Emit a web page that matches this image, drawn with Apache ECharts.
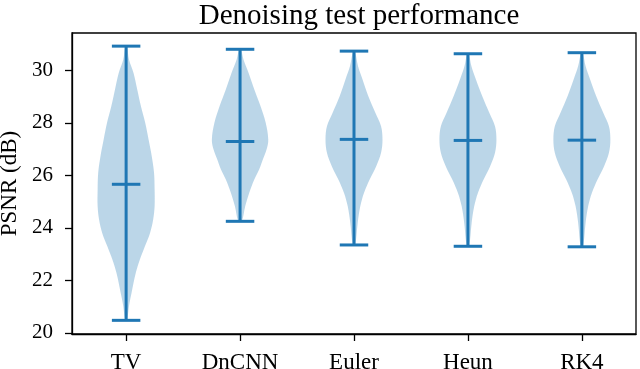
<!DOCTYPE html>
<html>
<head>
<meta charset="utf-8">
<script src="https://cdn.jsdelivr.net/npm/echarts@6/dist/echarts.min.js"></script>
<style>
  html, body { margin: 0; padding: 0; background: #fff; }
  #chart { width: 640px; height: 369px; }
</style>
</head>
<body>
<div id="chart"></div>
<script>
// values
const categories = ['TV', 'DnCNN', 'Euler', 'Heun', 'RK4'];
const maxVals = [30.92, 30.80, 30.73, 30.63, 30.67];
const minVals = [20.48, 24.25, 23.35, 23.30, 23.28];
const midVals = [25.66, 27.29, 27.37, 27.33, 27.34];
const yTicks = [20, 22, 24, 26, 28, 30];

// violin outlines: PSNR level and relative half-width (1 = widest)
const tvLevels = [30.92, 30.41, 29.90, 29.27, 28.63, 28.00, 27.36, 26.73, 26.10, 25.46, 24.82, 24.32, 23.81, 23.30, 22.79, 22.29, 21.52, 21.02, 20.48];
const tvWidths = [0.03, 0.10, 0.26, 0.39, 0.52, 0.67, 0.79, 0.90, 0.98, 1.00, 1.00, 0.95, 0.84, 0.66, 0.48, 0.34, 0.19, 0.10, 0.03];
const dncnnLevels = [30.80, 30.41, 29.90, 29.27, 28.63, 28.00, 27.36, 26.98, 26.60, 26.22, 25.84, 25.33, 24.82, 24.25];
const dncnnWidths = [0.03, 0.12, 0.30, 0.50, 0.72, 0.90, 0.99, 0.93, 0.80, 0.67, 0.50, 0.32, 0.18, 0.06];
const eulerLevels = [30.73, 30.16, 29.65, 29.02, 28.38, 27.87, 27.36, 26.86, 26.35, 25.84, 25.33, 24.82, 24.19, 23.35];
const eulerWidths = [0.03, 0.14, 0.30, 0.50, 0.75, 0.95, 1.00, 0.95, 0.78, 0.55, 0.35, 0.22, 0.13, 0.04];
const heunLevels = [30.63, 30.16, 29.65, 29.02, 28.38, 27.87, 27.36, 26.86, 26.35, 25.84, 25.33, 24.82, 24.19, 23.30];
const heunWidths = [0.03, 0.12, 0.28, 0.50, 0.75, 0.95, 1.00, 0.95, 0.78, 0.55, 0.35, 0.22, 0.13, 0.04];
const rk4Levels = [30.67, 30.16, 29.65, 29.02, 28.38, 27.87, 27.36, 26.86, 26.35, 25.84, 25.33, 24.82, 24.19, 23.28];
const rk4Widths = [0.03, 0.13, 0.29, 0.50, 0.75, 0.95, 1.00, 0.95, 0.78, 0.55, 0.35, 0.22, 0.13, 0.04];

const profiles = [
  [tvLevels, tvWidths],
  [dncnnLevels, dncnnWidths],
  [eulerLevels, eulerWidths],
  [heunLevels, heunWidths],
  [rk4Levels, rk4Widths]
];

const halfWidth = 0.25;   // matplotlib violinplot widths=0.5
const capHalf = 0.125;
const blue = '#1f77b4';
const font = '"Liberation Serif", "DejaVu Serif", serif';

let chart = echarts.init(document.getElementById('chart'));

function renderViolin(params, api) {
  let i = params.dataIndex;
  let pos = api.value(0);
  let levels = profiles[i][0];
  let widths = profiles[i][1];
  let right = [];
  let left = [];
  levels.forEach((v, k) => {
    right.push(api.coord([pos + widths[k] * halfWidth, v]));
    left.unshift(api.coord([pos - widths[k] * halfWidth, v]));
  });
  let top = api.coord([pos, maxVals[i]]);
  let bot = api.coord([pos, minVals[i]]);
  let mid = api.coord([pos, midVals[i]]);
  let capW = api.coord([pos + capHalf, 0])[0] - top[0];
  let lineStyle = { stroke: blue, lineWidth: 3 };
  return {
    type: 'group',
    children: [
      {
        type: 'polygon',
        shape: { points: right.concat(left), smooth: 0.35 },
        style: { fill: 'rgba(31,119,180,0.3)', stroke: null }
      },
      { type: 'line', shape: { x1: top[0], y1: top[1], x2: bot[0], y2: bot[1] }, style: lineStyle },
      { type: 'line', shape: { x1: top[0] - capW, y1: top[1], x2: top[0] + capW, y2: top[1] }, style: lineStyle },
      { type: 'line', shape: { x1: bot[0] - capW, y1: bot[1], x2: bot[0] + capW, y2: bot[1] }, style: lineStyle },
      { type: 'line', shape: { x1: mid[0] - capW, y1: mid[1], x2: mid[0] + capW, y2: mid[1] }, style: lineStyle }
    ]
  };
}

let option = {
  animation: false,
  backgroundColor: '#fff',
  title: {
    text: 'Denoising test performance',
    left: 354,
    textAlign: 'center',
    top: -3,
    textStyle: { fontFamily: font, fontSize: 29, fontWeight: 'normal', color: '#000' }
  },
  grid: {
    left: 72,
    right: 4,
    top: 33,
    bottom: 35,
    outerBoundsMode: 'none',
    containLabel: false,
    show: true,
    borderColor: '#000',
    borderWidth: 1.3
  },
  xAxis: {
    type: 'value',
    min: 0.525,
    max: 5.475,
    splitLine: { show: false },
    axisLine: { show: true, lineStyle: { color: '#000', width: 1.3 } },
    axisTick: { show: true, customValues: [1, 2, 3, 4, 5], length: 7, lineStyle: { color: '#000', width: 1.3 } },
    axisLabel: {
      customValues: [1, 2, 3, 4, 5],
      formatter: v => categories[Math.round(v) - 1],
      margin: 17,
      color: '#000',
      fontFamily: font,
      fontSize: 23
    }
  },
  yAxis: {
    type: 'value',
    min: 19.96,
    max: 31.42,
    name: 'PSNR (dB)',
    nameLocation: 'middle',
    nameGap: 49,
    nameTextStyle: { fontFamily: font, fontSize: 23, color: '#000' },
    splitLine: { show: false },
    axisLine: { show: true, lineStyle: { color: '#000', width: 1.3 } },
    axisTick: { show: true, customValues: yTicks, length: 7, lineStyle: { color: '#000', width: 1.3 } },
    axisLabel: {
      customValues: yTicks,
      margin: 19,
      color: '#000',
      fontFamily: font,
      fontSize: 21
    }
  },
  series: [
    {
      type: 'custom',
      renderItem: renderViolin,
      clip: false,
      data: categories.map((c, i) => [i + 1, midVals[i]])
    }
  ]
};

chart.setOption(option);
window.addEventListener('resize', function() {
  chart.resize();
});
</script>
</body>
</html>
